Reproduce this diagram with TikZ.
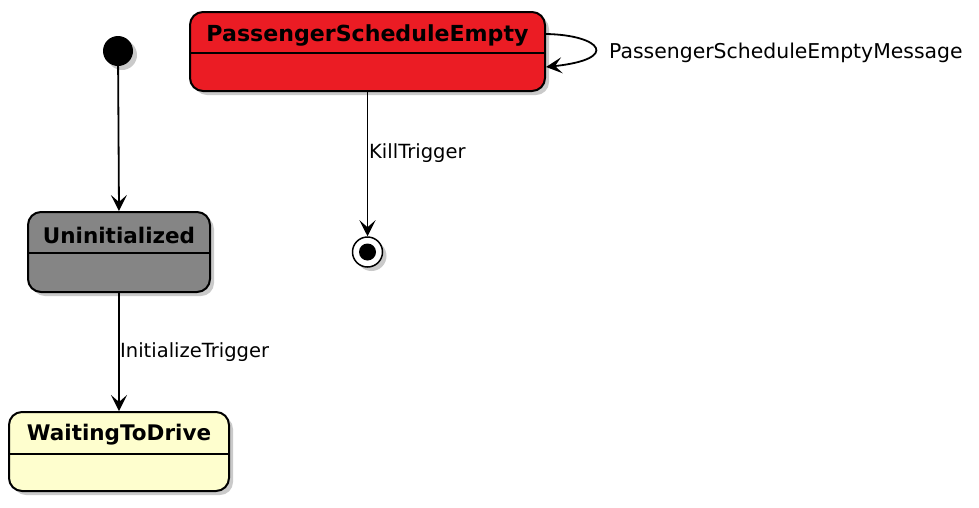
\documentclass[tikz,border=0pt]{standalone}
\usepackage{fontspec}
\setmainfont{DejaVu Sans}
\usetikzlibrary{arrows.meta,shadows,calc}
\definecolor{psered}{HTML}{EB1C24}
\definecolor{unigray}{HTML}{858585}
\definecolor{waityellow}{HTML}{FEFECE}
\tikzset{
  statebox/.style={draw=black, line width=2pt, rounded corners=13pt,
    drop shadow={shadow xshift=4pt, shadow yshift=-4pt, opacity=0.35, fill=black!60}},
  stitle/.style={font=\fontsize{21.5}{24}\selectfont\bfseries, inner sep=0pt},
  lbl/.style={font=\fontsize{19.5}{22}\selectfont, inner sep=0pt, anchor=west},
  conn/.style={draw=black, line width=1.8pt, -{Stealth[length=16pt,width=16pt,inset=7pt]}},
  div/.style={draw=black, line width=2pt}
}
\begin{document}
\begin{tikzpicture}[x=1pt,y=-1pt]
\useasboundingbox (0,0) rectangle (979,507);
% states
\node[statebox, fill=psered, minimum width=355pt, minimum height=79pt] (pse) at (367.5,51.5) {};
\node[statebox, fill=unigray, minimum width=182pt, minimum height=80pt] (uni) at (119,252) {};
\node[statebox, fill=waityellow, minimum width=220pt, minimum height=79pt] (wtd) at (119,451.5) {};
% dividers
\draw[div] ($(pse.north west)+(0,42)$) -- ($(pse.north east)+(0,42)$);
\draw[div] ($(uni.north west)+(0,42)$) -- ($(uni.north east)+(0,42)$);
\draw[div] ($(wtd.north west)+(0,43)$) -- ($(wtd.north east)+(0,43)$);
% titles
\node[stitle, font=\fontsize{22.1}{24}\selectfont\bfseries] (pset) at ($(pse.north)+(0,24)$) {PassengerScheduleEmpty};
\node[stitle] (unit) at ($(uni.north)+(0,24)$) {Uninitialized};
\node[stitle] (wtdt) at ($(wtd.north)+(0,24)$) {WaitingToDrive};
% initial and final
\node[circle, fill=black, minimum size=30pt, inner sep=0pt,
  drop shadow={shadow xshift=4pt, shadow yshift=-4pt, opacity=0.35, fill=black!60}] (init) at (118,51) {};
\node[circle, draw=black, line width=1.5pt, fill=white, minimum size=30pt, inner sep=0pt,
  drop shadow={shadow xshift=4pt, shadow yshift=-4pt, opacity=0.35, fill=black!60}] (fin) at (367.5,252) {};
\node[circle, fill=black, minimum size=17pt, inner sep=0pt] (finin) at (fin.center) {};
% connectors
\draw[conn] (init) -- (uni.north);
\draw[conn] (uni.south) -- (wtd.north);
\draw[conn] (pse.south) -- (fin.north);
\coordinate (lpA) at ($(pse.north east)+(0,23)$);
\coordinate (lpB) at ($(pse.north east)+(0,56)$);
\draw[conn] (lpA) .. controls +(55,1) and +(75,-8) .. (lpB);
% labels
\node[lbl] (lkill) at (369,153) {KillTrigger};
\node[lbl] (linit) at (120,352) {InitializeTrigger};
\node[lbl, font=\fontsize{20.4}{23}\selectfont] (lmsg) at (609,53) {PassengerScheduleEmptyMessage};
\end{tikzpicture}
\end{document}
